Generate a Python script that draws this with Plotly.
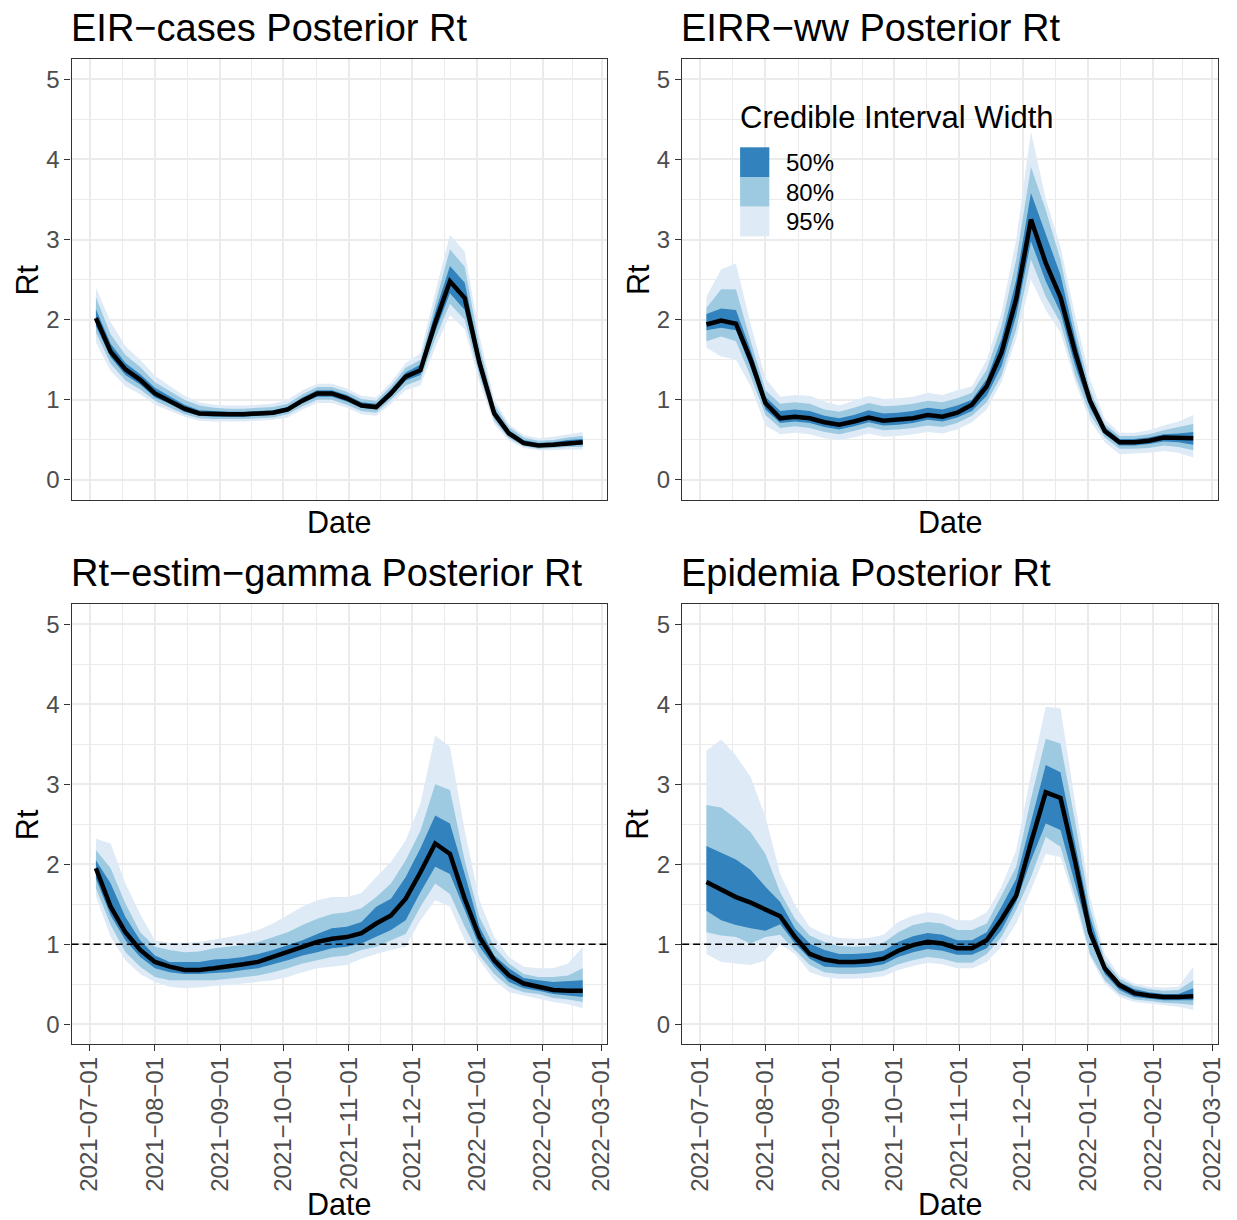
import pandas as pd
import plotly.graph_objects as go

W, H = 1237, 1220

# weekly time points of the Rt estimates
weeks = pd.date_range("2021-07-04", periods=34, freq="7D")

# axis ticks (monthly) and minor grid (mid-month)
month_ticks = pd.date_range("2021-07-01", "2022-03-01", freq="MS")
tick_text = [d.strftime("%Y-%m-%d").replace("-", "\u2212") for d in month_ticks]
minor_ticks = list(month_ticks[:-1] + (month_ticks[1:] - month_ticks[:-1]) / 2)
y_ticks = [0, 1, 2, 3, 4, 5]
y_minor = [0.5, 1.5, 2.5, 3.5, 4.5]

titles = ["EIR\u2212cases Posterior Rt", "EIRR\u2212ww Posterior Rt",
          "Rt\u2212estim\u2212gamma Posterior Rt", "Epidemia Posterior Rt"]

# ---- EIR-cases ----
eir_med = [2.02,1.60,1.38,1.25,1.08,0.99,0.89,0.83,0.82,0.82,0.82,0.83,0.84,0.88,0.99,1.08,1.08,1.02,0.93,0.91,1.08,1.29,1.37,1.96,2.48,2.27,1.46,0.83,0.58,0.46,0.43,0.44,0.46,0.47]
eir_hi50 = [2.13,1.70,1.46,1.32,1.15,1.05,0.94,0.87,0.86,0.85,0.85,0.86,0.87,0.91,1.03,1.12,1.12,1.06,0.97,0.95,1.13,1.34,1.44,2.10,2.67,2.46,1.57,0.89,0.62,0.50,0.46,0.47,0.50,0.51]
eir_hi80 = [2.28,1.82,1.56,1.41,1.22,1.11,1.00,0.93,0.90,0.89,0.89,0.90,0.91,0.95,1.07,1.16,1.16,1.10,1.01,0.99,1.17,1.40,1.50,2.20,2.88,2.66,1.67,0.94,0.66,0.53,0.49,0.50,0.53,0.55]
eir_hi95 = [2.40,1.97,1.67,1.50,1.30,1.17,1.05,0.97,0.94,0.93,0.93,0.94,0.95,1.00,1.12,1.20,1.20,1.14,1.05,1.03,1.22,1.46,1.58,2.34,3.06,2.85,1.80,1.00,0.70,0.56,0.52,0.54,0.57,0.60]
eir_lo50 = [1.92,1.53,1.31,1.19,1.03,0.95,0.85,0.80,0.79,0.79,0.79,0.80,0.81,0.85,0.96,1.04,1.04,0.98,0.90,0.88,1.04,1.24,1.31,1.85,2.33,2.12,1.37,0.78,0.55,0.44,0.41,0.42,0.43,0.44]
eir_lo80 = [1.84,1.45,1.24,1.13,0.99,0.91,0.82,0.77,0.76,0.76,0.76,0.77,0.78,0.82,0.92,1.00,1.00,0.94,0.86,0.84,1.00,1.18,1.25,1.76,2.20,2.00,1.30,0.74,0.52,0.42,0.39,0.40,0.41,0.41]
eir_lo95 = [1.72,1.36,1.17,1.07,0.94,0.87,0.79,0.74,0.73,0.73,0.73,0.74,0.75,0.78,0.88,0.96,0.96,0.90,0.82,0.80,0.95,1.12,1.18,1.65,2.06,1.88,1.22,0.70,0.49,0.40,0.37,0.37,0.38,0.38]

# ---- EIRR-ww ----
eirr_med = [1.94,1.99,1.95,1.50,0.96,0.77,0.79,0.77,0.72,0.69,0.73,0.78,0.74,0.75,0.77,0.81,0.79,0.84,0.94,1.17,1.59,2.26,3.25,2.71,2.28,1.59,0.99,0.61,0.47,0.47,0.49,0.53,0.53,0.52]
eirr_hi50 = [2.07,2.14,2.12,1.62,1.04,0.86,0.88,0.86,0.80,0.77,0.81,0.87,0.83,0.84,0.86,0.90,0.88,0.93,1.00,1.26,1.76,2.50,3.58,3.08,2.56,1.76,1.05,0.66,0.51,0.51,0.53,0.57,0.58,0.60]
eirr_hi80 = [2.15,2.38,2.38,1.73,1.12,0.95,0.97,0.95,0.88,0.85,0.90,0.96,0.92,0.93,0.95,0.99,0.97,1.02,1.09,1.38,1.92,2.75,3.91,3.37,2.75,1.88,1.13,0.70,0.55,0.55,0.57,0.62,0.66,0.70]
eirr_hi95 = [2.29,2.63,2.70,1.94,1.27,1.04,1.06,1.05,0.98,0.93,0.99,1.05,1.01,1.02,1.04,1.09,1.06,1.12,1.17,1.50,2.09,3.00,4.35,3.51,2.91,2.05,1.26,0.76,0.59,0.59,0.62,0.68,0.73,0.81]
eirr_lo50 = [1.87,1.90,1.87,1.40,0.88,0.71,0.73,0.71,0.66,0.63,0.67,0.72,0.68,0.69,0.71,0.75,0.73,0.78,0.86,1.05,1.42,2.05,2.98,2.48,2.09,1.42,0.90,0.57,0.43,0.43,0.45,0.48,0.47,0.44]
eirr_lo80 = [1.73,1.79,1.73,1.29,0.81,0.65,0.67,0.65,0.60,0.57,0.61,0.66,0.62,0.63,0.65,0.68,0.66,0.71,0.80,0.97,1.30,1.88,2.75,2.29,1.96,1.30,0.82,0.53,0.39,0.39,0.40,0.43,0.41,0.37]
eirr_lo95 = [1.65,1.54,1.50,1.17,0.68,0.57,0.59,0.57,0.52,0.50,0.53,0.58,0.54,0.55,0.57,0.60,0.58,0.63,0.72,0.88,1.22,1.76,2.50,2.12,1.84,1.22,0.74,0.47,0.32,0.33,0.34,0.36,0.34,0.28]

# ---- Rt-estim-gamma ----
gam_med = [1.95,1.47,1.15,0.93,0.78,0.72,0.68,0.68,0.70,0.72,0.75,0.78,0.84,0.90,0.97,1.03,1.07,1.09,1.14,1.26,1.36,1.57,1.90,2.26,2.13,1.57,1.09,0.80,0.61,0.51,0.47,0.43,0.42,0.42]
gam_hi50 = [2.05,1.76,1.34,1.05,0.86,0.78,0.78,0.78,0.81,0.82,0.84,0.88,0.93,0.99,1.05,1.13,1.20,1.22,1.28,1.47,1.57,1.84,2.20,2.61,2.51,1.88,1.22,0.86,0.70,0.58,0.55,0.53,0.54,0.55]
gam_hi80 = [2.18,1.95,1.51,1.15,0.97,0.93,0.90,0.91,0.95,0.97,0.99,1.03,1.09,1.15,1.24,1.32,1.38,1.40,1.45,1.59,1.76,2.05,2.42,3.00,2.93,2.05,1.34,0.97,0.76,0.63,0.59,0.59,0.61,0.70]
gam_hi95 = [2.32,2.26,1.76,1.38,1.05,1.02,1.02,1.03,1.06,1.09,1.13,1.18,1.26,1.36,1.47,1.55,1.59,1.59,1.64,1.84,2.03,2.30,2.76,3.61,3.47,2.42,1.55,1.09,0.84,0.72,0.70,0.70,0.76,0.97]
gam_lo50 = [1.82,1.36,1.05,0.84,0.70,0.65,0.63,0.63,0.64,0.65,0.68,0.70,0.75,0.80,0.86,0.90,0.95,0.97,1.01,1.09,1.18,1.30,1.65,1.97,1.88,1.43,0.97,0.72,0.53,0.45,0.42,0.38,0.36,0.34]
gam_lo80 = [1.70,1.24,0.90,0.72,0.59,0.55,0.55,0.55,0.55,0.57,0.59,0.61,0.65,0.70,0.76,0.80,0.84,0.86,0.93,0.97,1.05,1.13,1.47,1.76,1.63,1.22,0.86,0.63,0.47,0.40,0.38,0.33,0.31,0.28]
gam_lo95 = [1.60,1.09,0.80,0.63,0.53,0.47,0.45,0.46,0.48,0.49,0.51,0.53,0.55,0.59,0.65,0.70,0.72,0.74,0.82,0.88,0.93,0.97,1.30,1.55,1.47,1.05,0.80,0.55,0.40,0.36,0.32,0.28,0.25,0.20]

# ---- Epidemia ----
epi_med = [1.78,1.68,1.59,1.52,1.43,1.35,1.09,0.88,0.81,0.78,0.78,0.79,0.82,0.92,0.99,1.03,1.01,0.95,0.95,1.05,1.31,1.61,2.27,2.90,2.83,2.03,1.15,0.70,0.49,0.39,0.36,0.34,0.34,0.35]
epi_hi50 = [2.23,2.15,2.06,1.93,1.72,1.53,1.20,1.01,0.93,0.88,0.88,0.89,0.92,1.03,1.10,1.14,1.12,1.05,1.05,1.15,1.47,1.82,2.53,3.24,3.15,2.26,1.34,0.74,0.53,0.44,0.40,0.38,0.38,0.45]
epi_hi80 = [2.74,2.71,2.57,2.40,2.13,1.65,1.32,1.11,1.03,0.98,0.97,0.98,1.02,1.15,1.24,1.28,1.26,1.18,1.18,1.26,1.61,1.97,2.82,3.57,3.51,2.53,1.45,0.80,0.57,0.48,0.44,0.42,0.43,0.55]
epi_hi95 = [3.42,3.56,3.36,3.09,2.59,1.88,1.49,1.22,1.13,1.08,1.07,1.08,1.12,1.28,1.36,1.40,1.38,1.30,1.30,1.40,1.72,2.18,3.13,3.97,3.95,2.78,1.59,0.88,0.61,0.51,0.47,0.46,0.47,0.72]
epi_lo50 = [1.42,1.30,1.24,1.20,1.17,1.25,1.01,0.82,0.72,0.71,0.71,0.72,0.75,0.84,0.90,0.94,0.92,0.87,0.87,0.95,1.18,1.53,2.05,2.51,2.43,1.76,1.07,0.63,0.43,0.34,0.32,0.30,0.30,0.30]
epi_lo80 = [1.15,1.11,1.09,1.01,1.09,1.12,0.93,0.74,0.65,0.63,0.63,0.64,0.67,0.75,0.80,0.84,0.82,0.77,0.77,0.88,1.09,1.43,1.84,2.34,2.22,1.59,0.88,0.55,0.38,0.31,0.29,0.27,0.26,0.24]
epi_lo95 = [0.88,0.78,0.76,0.74,0.80,1.00,0.88,0.65,0.59,0.57,0.57,0.58,0.60,0.68,0.73,0.77,0.75,0.70,0.70,0.78,0.97,1.26,1.68,2.13,2.09,1.51,0.84,0.51,0.34,0.28,0.26,0.24,0.22,0.18]

panels = [
    (eir_med, (eir_lo95, eir_hi95), (eir_lo80, eir_hi80), (eir_lo50, eir_hi50)),
    (eirr_med, (eirr_lo95, eirr_hi95), (eirr_lo80, eirr_hi80), (eirr_lo50, eirr_hi50)),
    (gam_med, (gam_lo95, gam_hi95), (gam_lo80, gam_hi80), (gam_lo50, gam_hi50)),
    (epi_med, (epi_lo95, epi_hi95), (epi_lo80, epi_hi80), (epi_lo50, epi_hi50)),
]

band_colors = {"95%": "#DEEBF7", "80%": "#9ECAE1", "50%": "#3182BD"}
FONT = "Liberation Sans, Arial, sans-serif"
GRID = "#EBEBEB"
AXIS = "#333333"
TICK_FONT = dict(family=FONT, size=24, color="#4D4D4D")

# panel boxes in pixels: left, right, top, bottom
boxes = [(72, 610.5, 59.3, 500.0), (686, 1224.5, 59.3, 500.0),
         (72, 610.5, 604.3, 1044.3), (686, 1224.5, 604.3, 1044.3)]

x_range = [pd.Timestamp("2021-06-22 11:00"), pd.Timestamp("2022-03-03 13:00")]

fig = go.Figure()
layout = dict(width=W, height=H, margin=dict(l=0, r=0, t=0, b=0),
              paper_bgcolor="white", plot_bgcolor="white", showlegend=False,
              font=dict(family=FONT))
annotations = []
shapes = []

for k, (med, b95, b80, b50) in enumerate(panels):
    sfx = "" if k == 0 else str(k + 1)
    xa, ya = "x" + sfx, "y" + sfx
    for (lo, hi), key in ((b95, "95%"), (b80, "80%"), (b50, "50%")):
        fig.add_trace(go.Scatter(x=weeks, y=lo, mode="lines", line=dict(width=0),
                                 xaxis=xa, yaxis=ya, hoverinfo="skip"))
        fig.add_trace(go.Scatter(x=weeks, y=hi, mode="lines", line=dict(width=0),
                                 fill="tonexty", fillcolor=band_colors[key],
                                 xaxis=xa, yaxis=ya, hoverinfo="skip", name=key))
    fig.add_trace(go.Scatter(x=weeks, y=med, mode="lines",
                             line=dict(color="black", width=4.5),
                             xaxis=xa, yaxis=ya, name="median"))

    l, r, t, b = boxes[k]
    bottom_row = k >= 2
    xdict = dict(domain=[l / W, r / W], anchor=ya, type="date", range=x_range,
                 tickmode="array", tickvals=list(month_ticks), ticktext=tick_text,
                 showgrid=True, gridcolor=GRID, gridwidth=1.6,
                 minor=dict(tickmode="array", tickvals=minor_ticks, showgrid=True,
                            gridcolor=GRID, gridwidth=1.1, ticks=""),
                 showline=True, mirror=True, linecolor=AXIS, linewidth=1.2,
                 zeroline=False, fixedrange=True)
    if bottom_row:
        xdict.update(ticks="outside", ticklen=6, tickwidth=1.2, tickcolor=AXIS,
                     tickangle=-90, tickfont=TICK_FONT, showticklabels=True,
                     ticklabelstandoff=-4)
    else:
        xdict.update(ticks="", showticklabels=False)
    ydict = dict(domain=[1 - b / H, 1 - t / H], anchor=xa, range=[-0.25, 5.25],
                 tickmode="array", tickvals=y_ticks, ticktext=[str(v) for v in y_ticks],
                 showgrid=True, gridcolor=GRID, gridwidth=1.6,
                 minor=dict(tickmode="array", tickvals=y_minor, showgrid=True,
                            gridcolor=GRID, gridwidth=1.1, ticks=""),
                 ticks="outside", ticklen=6, tickwidth=1.2, tickcolor=AXIS,
                 tickfont=TICK_FONT, showline=True, mirror=True, linecolor=AXIS,
                 linewidth=1.2, zeroline=False, fixedrange=True)
    layout["xaxis" + sfx] = xdict
    layout["yaxis" + sfx] = ydict

    # panel title
    annotations.append(dict(text=titles[k], xref="paper", yref="paper",
                            x=(l - 3) / W, y=1 - (t - 31) / H, xanchor="left", yanchor="middle",
                            showarrow=False, font=dict(family=FONT, size=38, color="black")))
    # axis titles
    if bottom_row:
        date_pos = dict(y=-3 / H, yanchor="bottom")
    else:
        date_pos = dict(y=1 - 522 / H, yanchor="middle")
    annotations.append(dict(text="Date", xref="paper", yref="paper",
                            x=(l + r) / 2 / W, xanchor="center", showarrow=False,
                            font=dict(family=FONT, size=30.5, color="black"), **date_pos))
    annotations.append(dict(text="Rt", xref="paper", yref="paper",
                            x=(l - 45) / W, y=1 - (t + b) / 2 / H, xanchor="center",
                            yanchor="middle", textangle=-90, showarrow=False,
                            font=dict(family=FONT, size=30.5, color="black")))
    if bottom_row:
        shapes.append(dict(type="line", xref=xa + " domain", yref=ya, x0=0, x1=1,
                           y0=1, y1=1, layer="above",
                           line=dict(color="black", width=1.5, dash="7px,4px")))

# credible-interval legend inside the EIRR-ww panel
annotations.append(dict(text="Credible Interval Width", xref="paper", yref="paper",
                        x=742 / W, y=1 - 117 / H, xanchor="left", yanchor="middle",
                        showarrow=False, font=dict(family=FONT, size=31, color="black")))
for i, key in enumerate(["50%", "80%", "95%"]):
    top = 147.3 + 29.7 * i
    shapes.append(dict(type="rect", xref="paper", yref="paper",
                       x0=744.3 / W, x1=773.7 / W, y0=1 - (top + 29.7) / H, y1=1 - top / H,
                       fillcolor=band_colors[key], line=dict(width=0), layer="above"))
    annotations.append(dict(text=key, xref="paper", yref="paper",
                            x=788 / W, y=1 - (top + 15) / H, xanchor="left", yanchor="middle",
                            showarrow=False, font=dict(family=FONT, size=24, color="black")))

layout["annotations"] = annotations
layout["shapes"] = shapes
fig.update_layout(**layout)
fig.write_html("out.html",
               post_script="document.body.style.margin='0';"
                           "document.body.style.overflow='hidden';")
